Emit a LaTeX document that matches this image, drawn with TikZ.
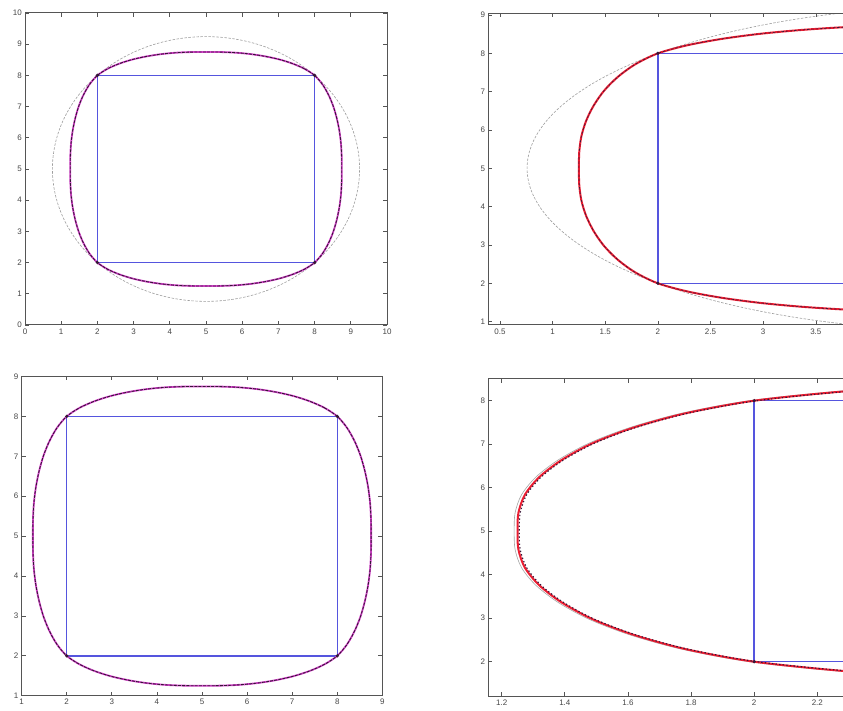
\documentclass[tikz,border=0pt]{standalone}
\usepackage{fontspec}
\setmainfont{Liberation Sans}
\definecolor{rectblue}{RGB}{85,85,222}
\definecolor{curvemag}{RGB}{215,70,205}
\definecolor{curvered}{RGB}{235,30,50}
\definecolor{darkd}{RGB}{55,22,55}
\definecolor{axisgray}{RGB}{85,85,85}
\newcommand\fourptcurve[1]{\draw[#1] plot[smooth cycle,tension=0.5] coordinates {(8,8) (7.7151,8.2146) (7.3848,8.3809) (7.0244,8.5116) (6.6406,8.6094) (6.2451,8.6808) (5.8379,8.7266) (5.4211,8.7471) (5,8.75) (4.5789,8.7471) (4.1621,8.7266) (3.7549,8.6808) (3.3594,8.6094) (2.9756,8.5116) (2.6152,8.3809) (2.2849,8.2146) (2,8) (1.7854,7.7151) (1.6191,7.3848) (1.4884,7.0244) (1.3906,6.6406) (1.3192,6.2451) (1.2734,5.8379) (1.2529,5.4211) (1.25,5) (1.2529,4.5789) (1.2734,4.1621) (1.3192,3.7549) (1.3906,3.3594) (1.4884,2.9756) (1.6191,2.6152) (1.7854,2.2849) (2,2) (2.2849,1.7854) (2.6152,1.6191) (2.9756,1.4884) (3.3594,1.3906) (3.7549,1.3192) (4.1621,1.2734) (4.5789,1.2529) (5,1.25) (5.4211,1.2529) (5.8379,1.2734) (6.2451,1.3192) (6.6406,1.3906) (7.0244,1.4884) (7.3848,1.6191) (7.7151,1.7854) (8,2) (8.2146,2.2849) (8.3809,2.6152) (8.5116,2.9756) (8.6094,3.3594) (8.6808,3.7549) (8.7266,4.1621) (8.7471,4.5789) (8.75,5) (8.7471,5.4211) (8.7266,5.8379) (8.6808,6.2451) (8.6094,6.6406) (8.5116,7.0244) (8.3809,7.3848) (8.2146,7.7151)};}
\newcommand\grcircle{\draw[circline] plot[domain=0:360,samples=160,smooth] ({5+4.2426*cos(\x)},{5+4.2426*sin(\x)});}
\begin{document}
\begin{tikzpicture}[x=1pt,y=1pt,
  axisline/.style={draw=axisgray, line width=1pt},
  tickline/.style={draw=axisgray, line width=0.7pt},
  ticklab/.style={font=\fontsize{8}{9}\selectfont, text=black!72, inner sep=0pt},
  rectline/.style={draw=rectblue, line width=1.5pt},
  circline/.style={draw=black!38, line width=0.6pt, dash pattern=on 2.5pt off 1.5pt},
  magline/.style={draw=curvemag, line width=1.8pt},
  redline/.style={draw=curvered, line width=2pt},
  grayline/.style={draw=black!35, line width=0.6pt},
  darkdash/.style={draw=darkd, line width=0.9pt, dash pattern=on 3pt off 1.2pt},
  darkdashthin/.style={draw=darkd, line width=0.6pt, dash pattern=on 2.5pt off 1.8pt},
  dotdash/.style={draw=darkd, line width=1.1pt, dash pattern=on 1.4pt off 2.2pt},
  cornerdot/.style={fill=darkd}
]
\useasboundingbox (0,0) rectangle (843,710);
\fill[white] (0,0) rectangle (843,710);
\clip (0,0) rectangle (843,710);

% ---------------- panel 1 (top left) ----------------
\begin{scope}[shift={(25pt,385pt)}, x=36.2pt, y=31.2pt]
  \begin{scope}
    \clip (0,0) rectangle (10,10);
    \grcircle
    \draw[rectline] (2,2) rectangle (8,8);
    \fourptcurve{magline}
    \fourptcurve{darkdash}
    \foreach \p in {(2,2),(8,2),(8,8),(2,8)} \fill[cornerdot] \p circle[radius=1.8pt];
  \end{scope}
  \draw[axisline] (0,0) rectangle (10,10);
  \foreach \v in {0,...,10} {
    \draw[tickline] (\v,0) -- ++(0pt,4pt);
    \draw[tickline] (\v,10) -- ++(0pt,-4pt);
    \draw[tickline] (0,\v) -- ++(4pt,0pt);
    \draw[tickline] (10,\v) -- ++(-4pt,0pt);
    \node[ticklab, anchor=north] (pax\v) at ([yshift=-4pt]\v,0) {\v};
    \node[ticklab, anchor=east] (pay\v) at ([xshift=-3pt]0,\v) {\v};
  }
\end{scope}

% ---------------- panel 2 (top right) ----------------
\begin{scope}[shift={(447.3pt,350pt)}, x=105.3pt, y=38.33pt]
  \begin{scope}
    \clip (0.389,0.914) rectangle (6,9.044);
    \grcircle
    \draw[rectline] (2,2) rectangle (8,8);
    \fourptcurve{redline}
    \fourptcurve{darkdashthin}
    \foreach \p in {(2,2),(2,8)} \fill[cornerdot] \p circle[radius=1.8pt];
  \end{scope}
  \draw[axisline] (6,0.914) -- (0.389,0.914) -- (0.389,9.044) -- (6,9.044);
  \foreach \v/\t [count=\k] in {0.5/0.5,1/1,1.5/1.5,2/2,2.5/2.5,3/3,3.5/3.5} {
    \draw[tickline] (\v,0.914) -- ++(0pt,4pt);
    \draw[tickline] (\v,9.044) -- ++(0pt,-4pt);
    \node[ticklab, anchor=north] (pbx\k) at ([yshift=-4pt]\v,0.914) {\t};
  }
  \foreach \v in {1,...,9} {
    \draw[tickline] (0.389,\v) -- ++(4pt,0pt);
    \node[ticklab, anchor=east] (pby\v) at ([xshift=-3pt]0.389,\v) {\v};
  }
\end{scope}

% ---------------- panel 3 (bottom left) ----------------
\begin{scope}[shift={(-23.5pt,-25.6pt)}, x=45.1pt, y=39.9pt]
  \begin{scope}
    \clip (1,1) rectangle (9,9);
    \draw[rectline] (2,2) rectangle (8,8);
    \fourptcurve{magline}
    \fourptcurve{darkdash}
    \foreach \p in {(2,2),(8,2),(8,8),(2,8)} \fill[cornerdot] \p circle[radius=1.8pt];
  \end{scope}
  \draw[axisline] (1,1) rectangle (9,9);
  \foreach \v in {1,...,9} {
    \draw[tickline] (\v,1) -- ++(0pt,4pt);
    \draw[tickline] (\v,9) -- ++(0pt,-4pt);
    \draw[tickline] (1,\v) -- ++(4pt,0pt);
    \draw[tickline] (9,\v) -- ++(-4pt,0pt);
    \node[ticklab, anchor=north] (pcx\v) at ([yshift=-3.5pt]\v,1) {\v};
    \node[ticklab, anchor=east] (pcy\v) at ([xshift=-3pt]1,\v) {\v};
  }
\end{scope}

% ---------------- panel 4 (bottom right) ----------------
\begin{scope}[shift={(123pt,-38.7pt)}, x=315.6pt, y=43.5pt]
  \begin{scope}
    \clip (1.1575,1.211) rectangle (3,8.499);
    \draw[rectline] (2,2) rectangle (8,8);
    \begin{scope}[scale around={1.0028:(5,5)}]
      \fourptcurve{grayline}
    \end{scope}
    \fourptcurve{redline}
    \begin{scope}[scale around={0.9985:(5,5)}]
      \fourptcurve{dotdash}
    \end{scope}
    \foreach \p in {(2,2),(2,8)} \fill[cornerdot] \p circle[radius=1.8pt];
  \end{scope}
  \draw[axisline] (3,1.211) -- (1.1575,1.211) -- (1.1575,8.499) -- (3,8.499);
  \foreach \v/\t [count=\k] in {1.2/1.2,1.4/1.4,1.6/1.6,1.8/1.8,2/2,2.2/2.2} {
    \draw[tickline] (\v,1.211) -- ++(0pt,4pt);
    \draw[tickline] (\v,8.499) -- ++(0pt,-4pt);
    \node[ticklab, anchor=north] (pdx\k) at ([yshift=-3.5pt]\v,1.211) {\t};
  }
  \draw[tickline] (2.4,1.211) -- ++(0pt,4pt);
  \draw[tickline] (2.4,8.499) -- ++(0pt,-4pt);
  \foreach \v in {2,...,8} {
    \draw[tickline] (1.1575,\v) -- ++(4pt,0pt);
    \node[ticklab, anchor=east] (pdy\v) at ([xshift=-3pt]1.1575,\v) {\v};
  }
\end{scope}
\end{tikzpicture}
\end{document}
